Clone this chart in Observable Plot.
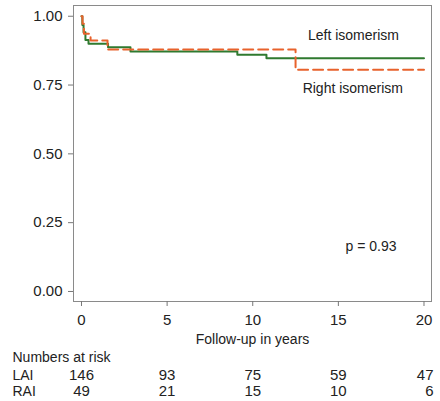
<!DOCTYPE html>
<html>
<head>
<meta charset="utf-8">
<script src="https://cdn.jsdelivr.net/npm/d3@7"></script>
<script src="https://cdn.jsdelivr.net/npm/@observablehq/plot@0.6"></script>
<style>
  html, body { margin: 0; padding: 0; background: #fff; }
</style>
</head>
<body>
<div id="chart"></div>
<script>
// ---- data ----
const laiTimes = [0, 0.05, 0.12, 0.23, 0.41, 1.55, 2.86, 9.1, 10.8, 20];
const laiSurv  = [1.0, 0.968, 0.942, 0.914, 0.900, 0.887, 0.872, 0.860, 0.847, 0.847];
const raiTimes = [0, 0.06, 0.14, 0.53, 1.52, 12.5, 20];
const raiSurv  = [1.0, 0.973, 0.936, 0.912, 0.879, 0.806, 0.806];
const seriesNames = ["Left isomerism", "Right isomerism"];
const groupCodes = ["LAI", "RAI"];
const xTicks = [0, 5, 10, 15, 20];
const yTicks = [0, 0.25, 0.5, 0.75, 1];
const laiRisk = [146, 93, 75, 59, 47];
const raiRisk = [49, 21, 15, 10, 6];
const pValue = 0.93;
const xLabel = "Follow-up in years";
const riskTitle = "Numbers at risk";

// ---- build tables ----
const lai = laiTimes.map((t, i) => ({t, s: laiSurv[i]}));
const rai = raiTimes.map((t, i) => ({t, s: raiSurv[i]}));
const laiEnd = [{...lai[lai.length - 1], name: seriesNames[0]}];
const raiEnd = [{...rai[rai.length - 1], name: seriesNames[1]}];
const riskLai = xTicks.map((t, i) => ({t, n: laiRisk[i]}));
const riskRai = xTicks.map((t, i) => ({t, n: raiRisk[i]}));
const notLast = d => d.t < xTicks[xTicks.length - 1];
const isLast = d => d.t === xTicks[xTicks.length - 1];

const green = "#2f7a2f";
const orange = "#e8622c";
const textColor = "#222";

const chart = Plot.plot({
  width: 440,
  height: 401,
  marginLeft: 73,
  marginRight: 9,
  marginTop: 5,
  marginBottom: 100,
  style: {fontFamily: "'Liberation Sans', Arial, sans-serif", fontSize: "14px", color: textColor, background: "#fff"},
  x: {domain: [-0.467, 20.438]},
  y: {domain: [-0.0364, 1.039]},
  marks: [
    Plot.frame({stroke: "#8a8a8a"}),
    Plot.axisY({ticks: yTicks, tickFormat: d3.format(".2f"), tickSize: 5, tickPadding: 6, fontSize: 15, stroke: "#777", fill: textColor, label: null}),
    Plot.axisX({ticks: xTicks, tickFormat: d3.format("d"), tickSize: 5, tickPadding: 8, fontSize: 15, stroke: "#777", fill: textColor, label: null}),
    Plot.line(lai, {x: "t", y: "s", curve: "step-after", stroke: green, strokeWidth: 2}),
    Plot.line(rai, {x: "t", y: "s", curve: "step-after", stroke: orange, strokeWidth: 2, strokeDasharray: "10,5"}),
    Plot.text(laiEnd, {x: "t", y: "s", text: "name", textAnchor: "end", lineAnchor: "bottom", dx: -25, dy: -18, fontSize: 14, fill: textColor}),
    Plot.text(raiEnd, {x: "t", y: "s", text: "name", textAnchor: "end", lineAnchor: "bottom", dx: -21, dy: 23, fontSize: 14, fill: textColor}),
    Plot.text([`p = ${pValue}`], {frameAnchor: "bottom-right", textAnchor: "end", lineAnchor: "bottom", dx: -35, dy: -51, fontSize: 14, fill: textColor}),
    Plot.text([xLabel], {frameAnchor: "bottom", lineAnchor: "bottom", dy: 42, fontSize: 14, fill: textColor}),
    Plot.text([riskTitle], {frameAnchor: "bottom-left", textAnchor: "start", lineAnchor: "bottom", dx: -61, dy: 60, fontSize: 14, fill: textColor}),
    Plot.text([groupCodes[0]], {frameAnchor: "bottom-left", textAnchor: "start", lineAnchor: "bottom", dx: -61, dy: 78, fontSize: 14, fill: textColor}),
    Plot.text([groupCodes[1]], {frameAnchor: "bottom-left", textAnchor: "start", lineAnchor: "bottom", dx: -61, dy: 94, fontSize: 14, fill: textColor}),
    Plot.text(riskLai, {filter: notLast, x: "t", text: "n", frameAnchor: "bottom", lineAnchor: "bottom", dy: 78, fontSize: 15, fill: textColor}),
    Plot.text(riskLai, {filter: isLast, x: "t", text: "n", frameAnchor: "bottom", textAnchor: "end", lineAnchor: "bottom", dx: 9.5, dy: 78, fontSize: 15, fill: textColor}),
    Plot.text(riskRai, {filter: notLast, x: "t", text: "n", frameAnchor: "bottom", lineAnchor: "bottom", dy: 94, fontSize: 15, fill: textColor}),
    Plot.text(riskRai, {filter: isLast, x: "t", text: "n", frameAnchor: "bottom", textAnchor: "end", lineAnchor: "bottom", dx: 9.5, dy: 94, fontSize: 15, fill: textColor})
  ]
});
document.getElementById("chart").appendChild(chart);
</script>
</body>
</html>
